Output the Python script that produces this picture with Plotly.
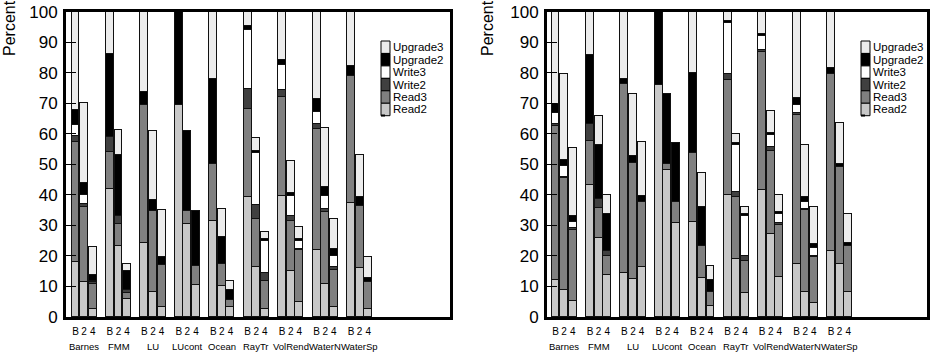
import plotly.graph_objects as go

benchmarks = ["Barnes", "FMM", "LU", "LUcont", "Ocean", "RayTr", "VolRend", "WaterN", "WaterSp"]
configs = ["B", "2", "4"]
series = ["Read2", "Read3", "Write2", "Write3", "Upgrade2", "Upgrade3"]
colors = ["#c8c8c8", "#808080", "#404040", "#ffffff", "#000000", "#ececec"]

# Cumulative top (percent) of each stacked segment, bar order:
# Barnes B,2,4, FMM B,2,4, ... WaterSp B,2,4
# ---------- left panel ----------
L_read2 = [18.0, 11.5, 2.7, 42.1, 23.5, 6.0, 24.3, 8.2, 3.5, 69.4, 30.6, 10.7, 31.6, 10.4, 3.3,
           39.3, 16.4, 2.7, 39.6, 15.3, 5.1, 22.1, 10.9, 3.5, 37.5, 16.2, 2.7]
L_read3 = [57.5, 36.1, 10.9, 54.1, 30.6, 7.9, 69.4, 34.8, 17.2, 69.4, 34.8, 16.9, 50.3, 17.5, 5.7,
           68.3, 32.2, 12.0, 72.3, 31.7, 21.9, 61.7, 34.6, 15.5, 79.0, 36.6, 11.5]
L_write2 = [59.3, 37.0, 11.5, 59.2, 33.3, 9.0, 69.4, 34.8, 17.2, 69.4, 34.8, 16.9, 50.3, 17.5, 5.7,
            74.9, 36.9, 14.4, 74.5, 33.3, 22.4, 63.4, 35.5, 16.4, 79.0, 36.6, 11.5]
L_write3 = [63.0, 39.9, 11.9, 59.2, 33.3, 9.0, 69.4, 34.8, 17.2, 69.4, 34.8, 16.9, 50.3, 17.5, 5.7,
            94.2, 53.8, 24.9, 82.5, 39.6, 24.9, 67.4, 39.6, 20.2, 79.0, 36.6, 11.5]
L_upg2 = [68.0, 43.9, 13.7, 86.3, 53.0, 15.1, 73.8, 38.3, 19.9, 100.0, 61.0, 34.8, 78.0, 26.2, 9.0,
          95.3, 54.6, 25.7, 84.2, 40.8, 25.7, 71.6, 42.6, 22.4, 82.2, 39.3, 12.9]
L_upg3 = [100.0, 70.2, 23.0, 100.0, 61.4, 17.5, 100.0, 61.0, 35.0, 100.0, 61.0, 34.8, 100.0, 35.5, 12.0,
          100.0, 58.8, 27.9, 100.0, 51.1, 29.7, 100.0, 62.0, 32.2, 100.0, 53.0, 19.7]
# ---------- right panel ----------
R_read2 = [12.2, 9.0, 5.5, 43.2, 26.0, 14.0, 14.4, 12.6, 16.4, 76.2, 48.3, 30.8, 31.1, 12.9, 3.8,
           39.9, 19.1, 7.9, 41.7, 27.3, 13.3, 17.5, 8.2, 4.6, 21.6, 17.5, 8.2]
R_read3 = [62.8, 45.7, 28.6, 57.9, 35.8, 20.2, 76.3, 50.6, 37.9, 76.2, 50.3, 37.7, 53.8, 23.5, 8.2,
           77.6, 39.3, 18.6, 86.9, 54.6, 30.1, 66.3, 35.0, 19.9, 79.6, 49.2, 23.5]
R_write2 = [63.4, 46.1, 29.2, 63.2, 38.8, 21.6, 76.3, 50.6, 37.9, 76.2, 50.3, 37.7, 53.8, 23.5, 8.2,
            79.8, 41.0, 20.2, 87.7, 55.7, 30.8, 66.9, 35.5, 20.2, 79.6, 49.2, 23.5]
R_write3 = [66.9, 49.4, 31.1, 63.2, 38.8, 21.6, 76.3, 50.6, 37.9, 76.2, 50.3, 37.7, 53.8, 23.5, 8.2,
            96.4, 56.6, 33.3, 92.1, 59.6, 33.9, 69.4, 37.9, 22.7, 79.6, 49.2, 23.5]
R_upg2 = [69.8, 51.6, 33.3, 85.8, 56.3, 33.9, 78.1, 52.7, 39.6, 100.0, 73.0, 57.0, 80.0, 36.1, 12.2,
          97.0, 57.2, 33.9, 92.9, 60.3, 34.4, 71.8, 39.3, 24.0, 81.7, 50.3, 24.4]
R_upg3 = [100.0, 79.6, 55.5, 100.0, 65.8, 39.9, 100.0, 73.0, 57.4, 100.0, 73.0, 57.0, 100.0, 47.2, 16.9,
          100.0, 59.9, 36.1, 100.0, 67.5, 39.9, 100.0, 56.6, 36.1, 100.0, 63.6, 33.7]

left_tops = [L_read2, L_read3, L_write2, L_write3, L_upg2, L_upg3]
right_tops = [R_read2, R_read3, R_write2, R_write3, R_upg2, R_upg3]

positions = [g * 4 + k + 1 for g in range(len(benchmarks)) for k in range(len(configs))]
tick_text = [c for _ in benchmarks for c in configs]

FONT = "Liberation Sans, Arial, sans-serif"
W, H = 938, 360

fig = go.Figure()
for tops, xa, ya in [(left_tops, "x", "y"), (right_tops, "x2", "y2")]:
    prev = [0.0] * len(positions)
    for name, col, top in zip(series, colors, tops):
        seg = [t - p for t, p in zip(top, prev)]
        fig.add_trace(go.Bar(
            x=positions, y=seg, name=name, xaxis=xa, yaxis=ya,
            marker=dict(color=col, line=dict(color="#111111", width=1)),
            width=0.92, showlegend=False, hoverinfo="skip"))
        prev = top

def px_x(v):
    return v / W

def px_y(v):
    return 1 - v / H

ydom = [px_y(317), px_y(11.7)]
common_x = dict(tickvals=positions, ticktext=tick_text, ticks="", showgrid=False, zeroline=False,
                showline=True, linewidth=3, linecolor="black", mirror=True,
                tickfont=dict(family=FONT, size=10, color="black"), automargin=False,
                ticklabelstandoff=3)
common_y = dict(range=[0, 100], dtick=10, tick0=0, ticks="inside", ticklen=10, tickwidth=1.2,
                tickcolor="black", showgrid=False, zeroline=False, showline=True, linewidth=3,
                linecolor="black", mirror=True,
                tickfont=dict(family=FONT, size=17, color="black"), automargin=False,
                ticklabelstandoff=2)

fig.update_layout(
    width=W, height=H, margin=dict(l=0, r=0, t=0, b=0),
    paper_bgcolor="white", plot_bgcolor="white", barmode="stack", bargap=0,
    xaxis=dict(domain=[px_x(66), px_x(450)], range=[-0.1, 44.5], anchor="y", **common_x),
    yaxis=dict(domain=ydom, anchor="x", **common_y),
    xaxis2=dict(domain=[px_x(547), px_x(927)], range=[0.01, 44.15], anchor="y2", **common_x),
    yaxis2=dict(domain=ydom, anchor="x2", **common_y),
)

annotations = []
shapes = []
for xref, lx, ptx in [("x", 381, 10), ("x2", 861, 488)]:
    # benchmark names
    for g, b in enumerate(benchmarks):
        annotations.append(dict(x=g * 4 + 2, y=px_y(346), xref=xref, yref="paper", text=b,
                                showarrow=False, font=dict(family=FONT, size=9.5, color="black"),
                                xanchor="center", yanchor="middle"))
    # y-axis title
    annotations.append(dict(x=px_x(ptx), y=px_y(28), xref="paper", yref="paper", text="Percent",
                            textangle=-90, showarrow=False,
                            font=dict(family=FONT, size=16, color="black"),
                            xanchor="center", yanchor="middle"))
    # legend (top entry = Upgrade3)
    row_h = 12.45
    top0 = 41
    for i, (name, col) in enumerate(reversed(list(zip(series, colors)))):
        y0 = top0 + i * row_h
        shapes.append(dict(type="rect", xref="paper", yref="paper",
                           x0=px_x(lx), x1=px_x(lx + 9), y0=px_y(y0 + row_h), y1=px_y(y0),
                           fillcolor=col, line=dict(color="black", width=1)))
        annotations.append(dict(x=px_x(lx + 10), y=px_y(y0 + row_h / 2), xref="paper", yref="paper",
                                text=name, showarrow=False, xanchor="left", yanchor="middle",
                                font=dict(family=FONT, size=11.5, color="black")))
    shapes.append(dict(type="rect", xref="paper", yref="paper",
                       x0=px_x(lx), x1=px_x(lx + 4), y0=px_y(116.5), y1=px_y(114.5),
                       fillcolor="black", line=dict(width=0)))

fig.update_layout(annotations=annotations, shapes=shapes)
fig.write_html("out.html")
